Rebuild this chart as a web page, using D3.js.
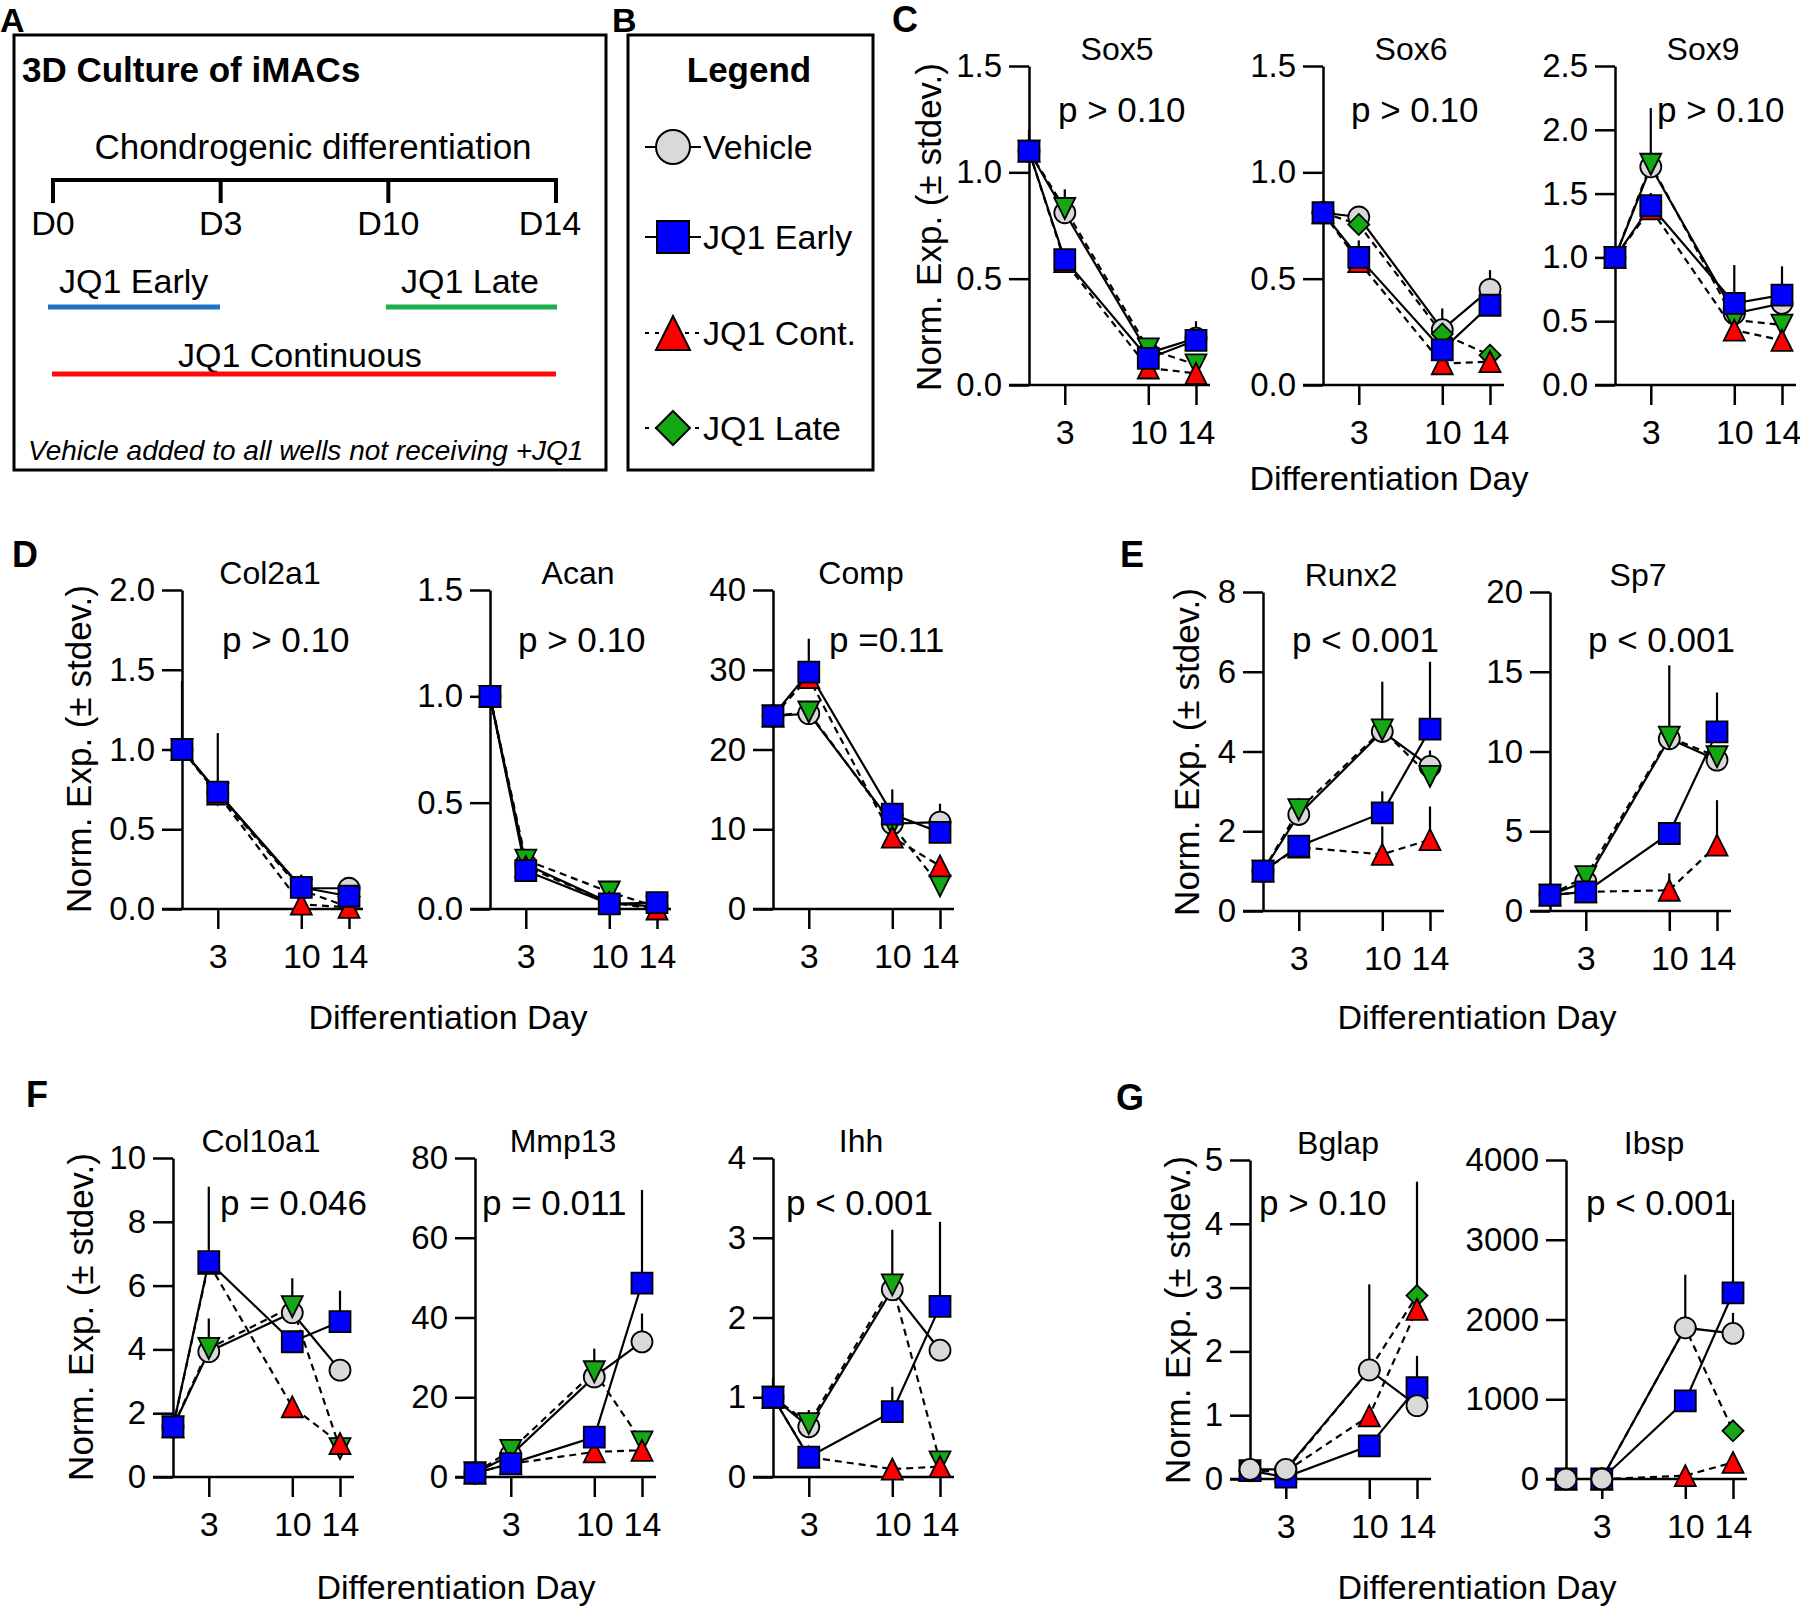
<!DOCTYPE html>
<html><head><meta charset="utf-8">
<script src="https://cdn.jsdelivr.net/npm/d3@7"></script>
<style>
body{margin:0;background:#fff}
svg{display:block}
text{font-family:"Liberation Sans",Arial,Helvetica,sans-serif;fill:#000}
</style>
</head><body>
<svg id="fig" width="1800" height="1606"></svg>
<script>
// ---------------- DATA ----------------
const days = [0, 3, 10, 14];
const xTickDays = [3, 10, 14];
const seriesNames = ["Vehicle", "JQ1 Early", "JQ1 Cont.", "JQ1 Late"];
const timelineLabels = ["D0", "D3", "D10", "D14"];
// series order in each array: Vehicle, JQ1 Early, JQ1 Cont., JQ1 Late
const sox5Mean = [[1.10,0.81,0.15,0.22],[1.10,0.59,0.125,0.21],[1.10,0.58,0.08,0.055],[1.10,0.83,0.17,0.095]];
const sox5Sd   = [[0.10,0.11,0,0.08],[0,0,0.06,0],[0,0,0,0],[0,0,0,0]];
const sox5Ticks = [0,0.5,1.0,1.5];

const sox6Mean = [[0.81,0.79,0.26,0.45],[0.81,0.60,0.165,0.375],[0.81,0.58,0.10,0.11],[0.81,0.755,0.24,0.14]];
const sox6Sd   = [[0,0,0.10,0.09],[0,0.08,0,0],[0,0,0,0],[0,0,0,0]];
const sox6Ticks = [0,0.5,1.0,1.5];

const sox9Mean = [[1.0,1.71,0.56,0.64],[1.0,1.405,0.64,0.705],[1.0,1.38,0.43,0.35],[1.0,1.73,0.51,0.47]];
const sox9Sd   = [[0,0.46,0,0],[0,0.10,0.30,0.225],[0,0,0,0],[0,0,0,0]];
const sox9Ticks = [0,0.5,1.0,1.5,2.0,2.5];

const col2a1Mean = [[1.0,0.73,0.13,0.13],[1.0,0.733,0.136,0.08],[1.0,0.72,0.03,0.01],[1.0,0.72,0.12,0.01]];
const col2a1Sd   = [[0.43,0,0,0.06],[0,0.37,0.08,0],[0,0,0,0],[0,0,0,0]];
const col2a1Ticks = [0,0.5,1.0,1.5,2.0];

const acanMean = [[1.0,0.21,0.03,0.01],[1.0,0.18,0.024,0.03],[1.0,0.20,0.03,0.0],[1.0,0.23,0.08,0.01]];
const acanSd   = [[0,0,0,0],[0,0,0,0],[0,0,0,0],[0,0,0,0]];
const acanTicks = [0,0.5,1.0,1.5];

const compMean = [[24.2,24.5,10.7,10.9],[24.2,29.7,11.9,9.6],[24.2,29.0,9.0,5.4],[24.2,24.7,10.5,2.9]];
const compSd   = [[0,0,0,2.3],[0,4.2,3.1,0],[0,0,0,0],[0,0,0,0]];
const compTicks = [0,10,20,30,40];

const runx2Mean = [[1.0,2.42,4.5,3.625],[1.0,1.625,2.46,4.56],[1.0,1.6,1.42,1.79],[1.0,2.54,4.54,3.375]];
const runx2Sd   = [[0,0,0,0.4],[0,0,0.54,1.69],[0,0,0.7,0.83],[0,0.29,1.21,0]];
const runx2Ticks = [0,2,4,6,8];

const sp7Mean = [[1.0,1.84,10.8,9.46],[1.0,1.2,4.86,11.23],[1.0,1.2,1.3,4.13],[1.0,2.15,10.9,9.67]];
const sp7Sd   = [[0,0,0,0],[0,0,0,2.47],[0,0,1.06,2.82],[0,0,4.5,0]];
const sp7Ticks = [0,5,10,15,20];

const col10a1Mean = [[1.57,3.93,5.15,3.35],[1.57,6.75,4.24,4.87],[1.57,6.7,2.2,1.05],[1.57,4.03,5.34,0.89]];
const col10a1Sd   = [[0,0,0,0],[0,2.35,0,0.97],[0,0,0,0],[0,0.94,0.89,0]];
const col10a1Ticks = [0,2,4,6,8,10];

const mmp13Mean = [[1.0,5.5,25.1,33.9],[1.0,3.35,10.0,48.6],[1.0,3.3,6.3,6.7],[1.0,6.7,26.4,8.8]];
const mmp13Sd   = [[0,0,0,7.1],[0,0,0,23.4],[0,0,0,0],[0,0,5.8,0]];
const mmp13Ticks = [0,20,40,60,80];

const ihhMean = [[1.0,0.63,2.35,1.59],[1.0,0.25,0.82,2.14],[1.0,0.25,0.10,0.13],[1.0,0.67,2.41,0.19]];
const ihhSd   = [[0,0,0,0],[0.24,0,0.31,1.06],[0,0,0,0],[0,0.17,0.69,0]];
const ihhTicks = [0,1,2,3,4];

const bglapMean = [[0.15,0.15,1.71,1.15],[0.13,0.03,0.52,1.43],[0.13,0.12,0.99,2.66],[0.13,0.13,1.71,2.875]];
const bglapSd   = [[0,0,1.34,0],[0,0,0,0.5],[0,0,0,0],[0,0,0,1.785]];
const bglapTicks = [0,1,2,3,4,5];

const ibspMean = [[0,0,1896,1825],[0,0,979,2333],[0,0,42,208],[0,0,1896,604]];
const ibspSd   = [[0,0,666,258],[0,0,0,1167],[0,0,0,0],[0,0,0,0]];
const ibspTicks = [0,1000,2000,3000,4000];

// ---------------- STYLE / LAYOUT ----------------
const seriesFill = ["#D9D9D9", "#0000FF", "#FF0000", "#14A814"];
const seriesDash = [null, null, "7,5", "7,5"];
const seriesShape = ["circle", "square", "tri", "tridown"];
const plotW = 167, plotH = 319;

const svg = d3.select("#fig");

function shapePath(shape, s) {
  const h = s / 2;
  switch (shape) {
    case "circle": return `M${-h},0A${h},${h} 0 1,0 ${h},0A${h},${h} 0 1,0 ${-h},0Z`;
    case "square": return `M${-h},${-h}H${h}V${h}H${-h}Z`;
    case "tri": return `M0,${-h}L${h},${h}L${-h},${h}Z`;
    case "tridown": return `M0,${h}L${h},${-h}L${-h},${-h}Z`;
    case "diamond": return `M0,${-h}L${h},0L0,${h}L${-h},0Z`;
  }
}

function txt(g, x, y, s, size, opts = {}) {
  const t = g.append("text").attr("x", x).attr("y", y).attr("font-size", size).text(s);
  if (opts.anchor) t.attr("text-anchor", opts.anchor);
  if (opts.bold) t.attr("font-weight", "bold");
  if (opts.italic) t.attr("font-style", "italic");
  return t;
}

// ---------------- PANEL A ----------------
const gA = svg.append("g");
txt(gA, 0, 32, "A", 34, {bold: true});
gA.append("rect").attr("x", 14).attr("y", 35).attr("width", 592).attr("height", 435)
  .attr("fill", "none").attr("stroke", "#000").attr("stroke-width", 3);
txt(gA, 22, 82, "3D Culture of iMACs", 35, {bold: true});
txt(gA, 313, 159, "Chondrogenic differentiation", 35, {anchor: "middle"});
const tl = d3.scalePoint().domain(timelineLabels).range([53, 556]);
gA.append("line").attr("x1", 53).attr("x2", 556).attr("y1", 180).attr("y2", 180)
  .attr("stroke", "#000").attr("stroke-width", 4).attr("stroke-linecap", "square");
timelineLabels.forEach(d => {
  gA.append("line").attr("x1", tl(d)).attr("x2", tl(d)).attr("y1", 180).attr("y2", 203)
    .attr("stroke", "#000").attr("stroke-width", 4);
  txt(gA, d === "D14" ? tl(d) - 6 : tl(d), 235, d, 34, {anchor: "middle"});
});
txt(gA, 59, 293, "JQ1 Early", 34);
gA.append("line").attr("x1", 48).attr("x2", 220).attr("y1", 307).attr("y2", 307).attr("stroke", "#1F72C4").attr("stroke-width", 5);
txt(gA, 401, 293, "JQ1 Late", 34);
gA.append("line").attr("x1", 386).attr("x2", 557).attr("y1", 307).attr("y2", 307).attr("stroke", "#19AF4F").attr("stroke-width", 5);
txt(gA, 178, 367, "JQ1 Continuous", 34);
gA.append("line").attr("x1", 52).attr("x2", 556).attr("y1", 374).attr("y2", 374).attr("stroke", "#FF0A0A").attr("stroke-width", 5);
txt(gA, 28, 460, "Vehicle added to all wells not receiving +JQ1", 28, {italic: true});

// ---------------- PANEL B (legend) ----------------
const gB = svg.append("g");
txt(gB, 612, 32, "B", 34, {bold: true});
gB.append("rect").attr("x", 628).attr("y", 35).attr("width", 245).attr("height", 435)
  .attr("fill", "none").attr("stroke", "#000").attr("stroke-width", 3);
txt(gB, 749, 82, "Legend", 35, {anchor: "middle", bold: true});
const legendRows = [147, 237, 333, 428];
const legendShape = ["circle", "square", "tri", "diamond"];
const legendSize = [34, 32, 34, 34];
seriesNames.forEach((name, i) => {
  const cy = legendRows[i];
  gB.append("line").attr("x1", 645).attr("x2", 701).attr("y1", cy).attr("y2", cy)
    .attr("stroke", "#000").attr("stroke-width", 2.2).attr("stroke-dasharray", i >= 2 ? "4,6" : null);
  gB.append("path").attr("d", shapePath(legendShape[i], legendSize[i]))
    .attr("transform", `translate(673,${cy})`).attr("fill", seriesFill[i])
    .attr("stroke", "#000").attr("stroke-width", 2);
  txt(gB, 703, cy + 12, name, 34);
});

// ---------------- PLOTS ----------------
function drawPlot(c) {
  const x = d3.scaleLinear().domain([0, 14]).range([c.x0, c.x0 + plotW]);
  const y = d3.scaleLinear().domain([0, c.ticks[c.ticks.length - 1]]).range([c.top + plotH, c.top]);
  const g = svg.append("g");
  const y0 = y(0);
  const ya = g.append("g").attr("transform", `translate(${c.x0},0)`)
    .call(d3.axisLeft(y).tickValues(c.ticks).tickFormat(d3.format(c.fmt)).tickSize(20).tickSizeOuter(0).tickPadding(7));
  g.append("line").attr("x1", c.x0 - 20).attr("x2", c.x0 + plotW + 14).attr("y1", y0).attr("y2", y0)
    .attr("stroke", "#000").attr("stroke-width", 2.5);
  const xa = g.append("g").attr("transform", `translate(0,${y0})`)
    .call(d3.axisBottom(x).tickValues(xTickDays).tickFormat(d3.format("d")).tickSize(20).tickSizeOuter(0).tickPadding(15));
  xa.select(".domain").remove();
  [ya, xa].forEach(a => {
    a.attr("font-size", null).attr("font-family", null);
    a.selectAll("line,path").attr("stroke", "#000").attr("stroke-width", 2.5);
  });
  ya.selectAll("text").attr("font-size", 33).attr("fill", "#000");
  xa.selectAll("text").attr("font-size", 34).attr("fill", "#000");
  txt(g, c.x0 + 88, c.top - 6, c.title, 32, {anchor: "middle"});
  txt(g, c.x0 + c.pdx, c.py, c.p, 35);

  const order = c.order || [0, 3, 2, 1];
  const line = d3.line().x((d, i) => x(days[i])).y(d => y(d));
  // error bars (upper only)
  order.forEach(s => {
    c.sd[s].forEach((e, i) => {
      if (e > 0) g.append("line").attr("x1", x(days[i])).attr("x2", x(days[i]))
        .attr("y1", y(c.mean[s][i])).attr("y2", y(c.mean[s][i] + e))
        .attr("stroke", "#000").attr("stroke-width", 2.2);
    });
  });
  order.forEach(s => {
    g.append("path").attr("d", line(c.mean[s])).attr("fill", "none")
      .attr("stroke", "#000").attr("stroke-width", 2.2).attr("stroke-dasharray", seriesDash[s]);
  });
  order.forEach(s => {
    const shape = s === 3 ? (c.late || "tridown") : seriesShape[s];
    c.mean[s].forEach((v, i) => {
      g.append("path").attr("d", shapePath(shape, 21))
        .attr("transform", `translate(${x(days[i])},${y(v)})`)
        .attr("fill", seriesFill[s]).attr("stroke", "#000").attr("stroke-width", 1.8);
    });
  });
}

function yLabel(x, y) {
  svg.append("text").attr("transform", `translate(${x},${y}) rotate(-90)`)
    .attr("text-anchor", "middle").attr("dy", "0.35em").attr("font-size", 35)
    .text("Norm. Exp. (\u00B1 stdev.)");
}
function xLabel(x, y) { txt(svg, x, y, "Differentiation Day", 34, {anchor: "middle"}); }

const plots = [
  {title: "Sox5", mean: sox5Mean, sd: sox5Sd, ticks: sox5Ticks, fmt: ".1f", x0: 1029, top: 66, p: "p > 0.10", pdx: 29, py: 122},
  {title: "Sox6", mean: sox6Mean, sd: sox6Sd, ticks: sox6Ticks, fmt: ".1f", x0: 1323, top: 66, p: "p > 0.10", pdx: 28, py: 122, late: "diamond"},
  {title: "Sox9", mean: sox9Mean, sd: sox9Sd, ticks: sox9Ticks, fmt: ".1f", x0: 1615, top: 66, p: "p > 0.10", pdx: 42, py: 122},
  {title: "Col2a1", mean: col2a1Mean, sd: col2a1Sd, ticks: col2a1Ticks, fmt: ".1f", x0: 182, top: 590, p: "p > 0.10", pdx: 40, py: 652},
  {title: "Acan", mean: acanMean, sd: acanSd, ticks: acanTicks, fmt: ".1f", x0: 490, top: 590, p: "p > 0.10", pdx: 28, py: 652},
  {title: "Comp", mean: compMean, sd: compSd, ticks: compTicks, fmt: "d", x0: 773, top: 590, p: "p =0.11", pdx: 56, py: 652},
  {title: "Runx2", mean: runx2Mean, sd: runx2Sd, ticks: runx2Ticks, fmt: "d", x0: 1263, top: 592, p: "p < 0.001", pdx: 29, py: 652},
  {title: "Sp7", mean: sp7Mean, sd: sp7Sd, ticks: sp7Ticks, fmt: "d", x0: 1550, top: 592, p: "p < 0.001", pdx: 38, py: 652},
  {title: "Col10a1", mean: col10a1Mean, sd: col10a1Sd, ticks: col10a1Ticks, fmt: "d", x0: 173, top: 1158, p: "p = 0.046", pdx: 47, py: 1215},
  {title: "Mmp13", mean: mmp13Mean, sd: mmp13Sd, ticks: mmp13Ticks, fmt: "d", x0: 475, top: 1158, p: "p = 0.011", pdx: 7, py: 1215},
  {title: "Ihh", mean: ihhMean, sd: ihhSd, ticks: ihhTicks, fmt: "d", x0: 773, top: 1158, p: "p < 0.001", pdx: 13, py: 1215},
  {title: "Bglap", mean: bglapMean, sd: bglapSd, ticks: bglapTicks, fmt: "d", x0: 1250, top: 1160, p: "p > 0.10", pdx: 9, py: 1215, late: "diamond", order: [3, 2, 1, 0]},
  {title: "Ibsp", mean: ibspMean, sd: ibspSd, ticks: ibspTicks, fmt: "d", x0: 1566, top: 1160, p: "p < 0.001", pdx: 20, py: 1215, late: "diamond", order: [3, 2, 1, 0]}
];
plots.forEach(drawPlot);

// panel letters
[["C", 892, 32], ["D", 12, 567], ["E", 1120, 567], ["F", 26, 1107], ["G", 1116, 1110]]
  .forEach(([l, x, y]) => txt(svg, x, y, l, 36, {bold: true}));

yLabel(929, 227); yLabel(79, 749); yLabel(1187, 752); yLabel(81, 1317); yLabel(1178, 1320);
xLabel(1389, 490); xLabel(448, 1029); xLabel(1477, 1029); xLabel(456, 1599); xLabel(1477, 1599);
</script>
</body></html>
